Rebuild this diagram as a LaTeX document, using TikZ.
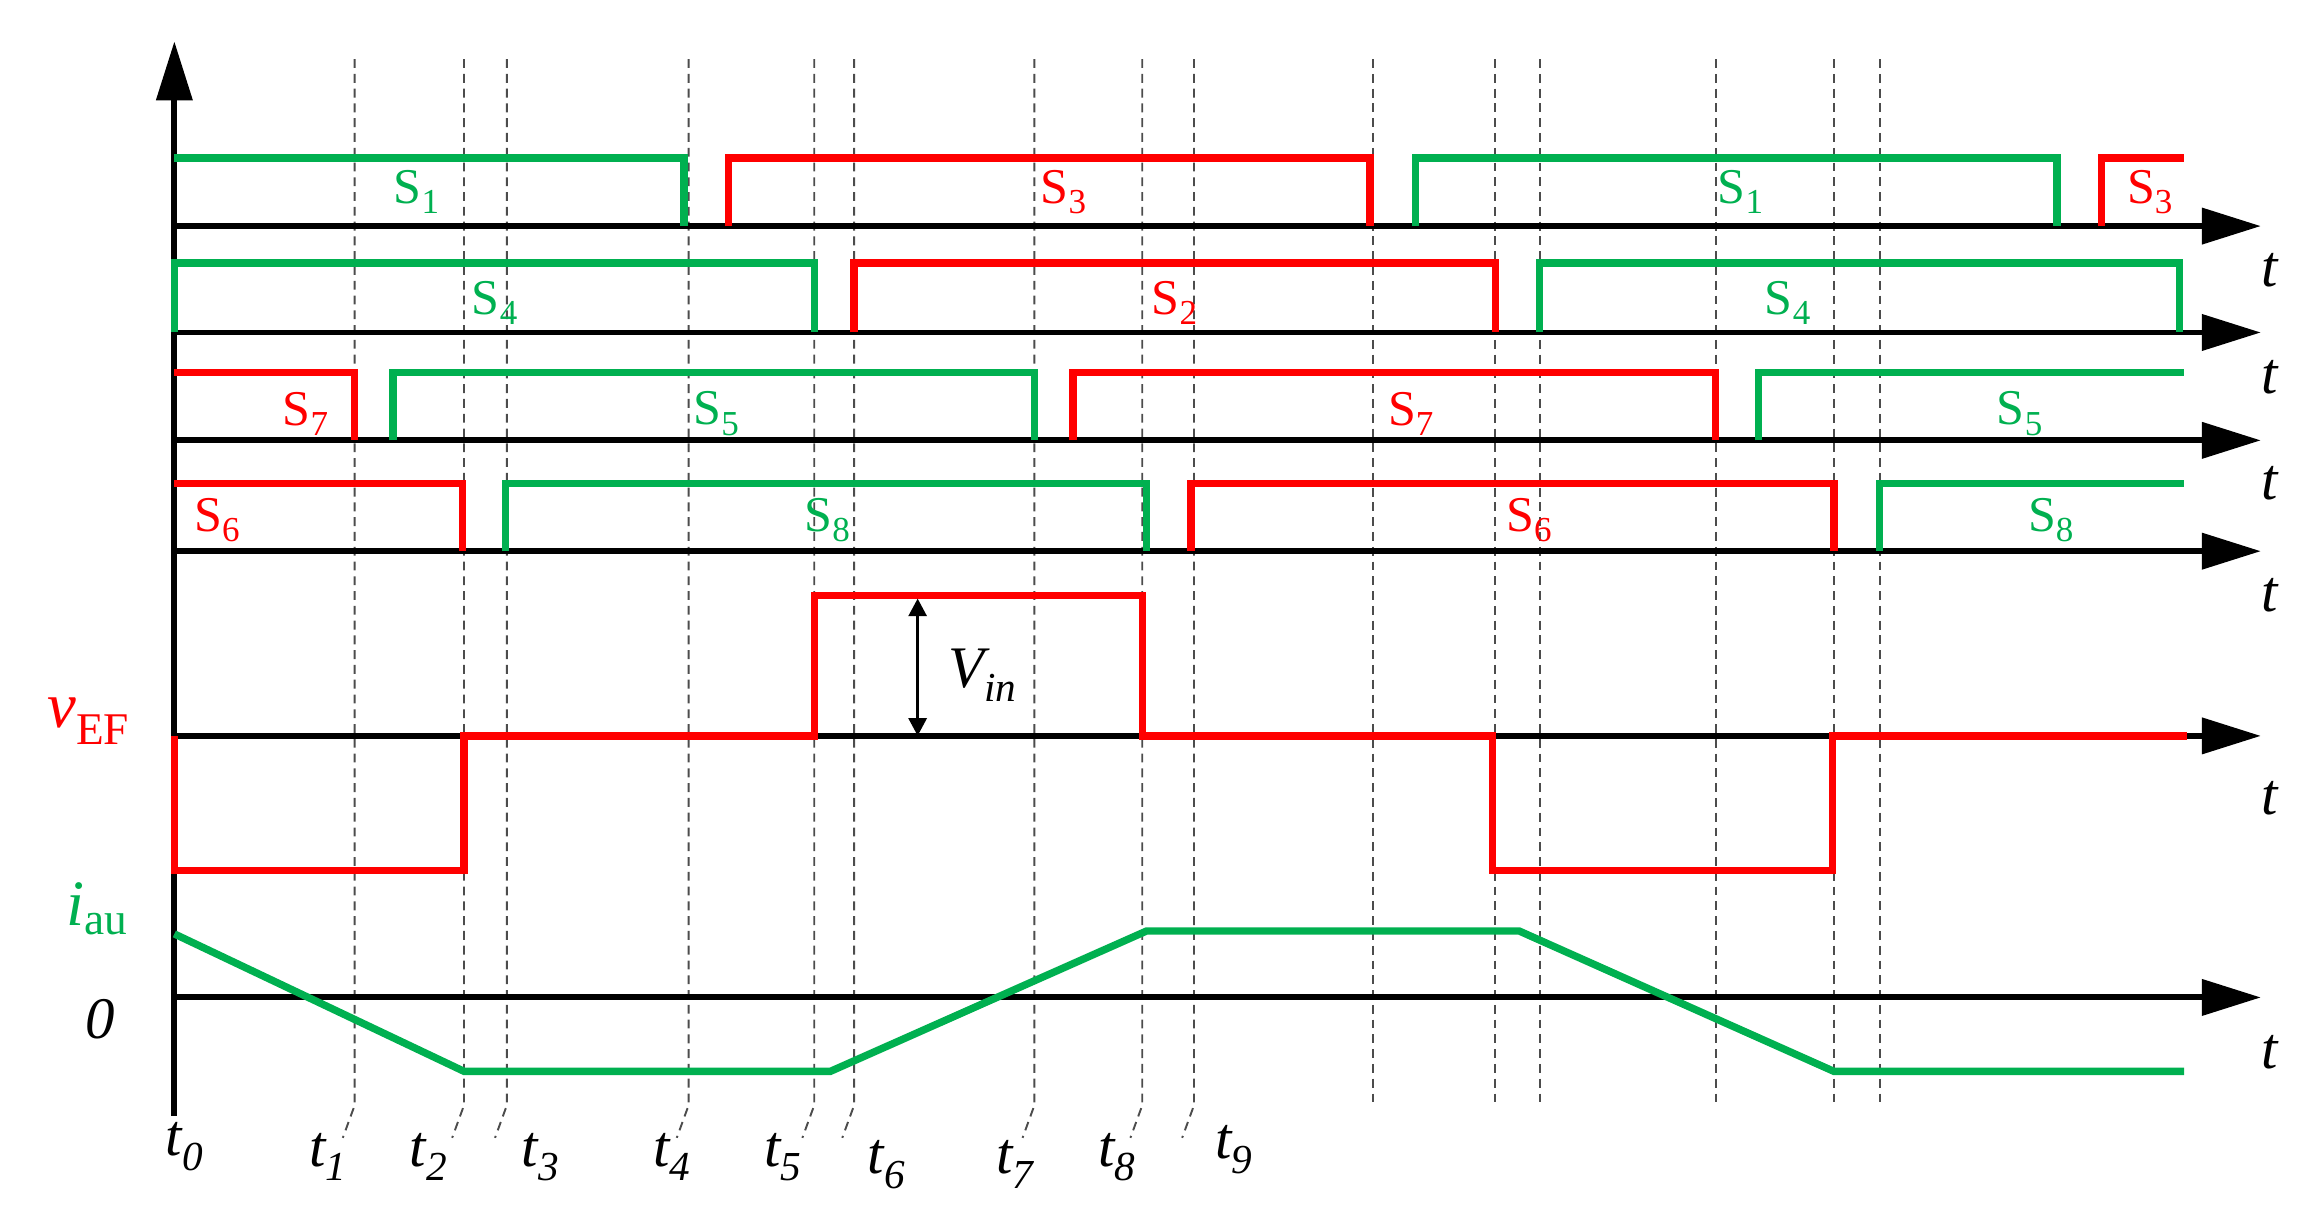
\documentclass[tikz,border=0pt]{standalone}
\usepackage{fontspec}
\setmainfont{Liberation Serif}
\usetikzlibrary{arrows.meta}
\definecolor{gr}{RGB}{0,176,80}
\definecolor{rd}{RGB}{255,0,0}
\tikzset{
 ax/.style={line width=4bp,-{Triangle[length=40bp,width=24bp]}},
 wg/.style={line width=5bp,gr},
 wr/.style={line width=5bp,rd},
 dl/.style={line width=1.3bp,dashed,dash pattern=on 6bp off 4bp,black!70},
 lg/.style={gr,font=\fontsize{34}{36}\selectfont},
 lr/.style={rd,font=\fontsize{34}{36}\selectfont},
 tl/.style={font=\fontsize{40}{44}\selectfont\itshape},
}
\begin{document}
\begin{tikzpicture}[x=1bp,y=-1bp]
\useasboundingbox (0,0) rectangle (1568,832);
% dashed lines
\foreach \x/\n in {240/1,314/2,343/3,466/4,551/5,578/6,700/7,773/8,808/9}{
 \coordinate (d\n) at (\x,40);
 \draw[dl] (d\n) -- (\x,748) -- (\x-8,770);
}
\foreach \x in {929,1012,1042,1161,1241,1272}{\draw[dl] (\x,40) -- (\x,748);}
% axes
\coordinate (o) at (118,755);
\coordinate (top) at (118,28);
\draw[ax] (o) -- (top);
\foreach \y in {153,225,298,373,498,675}{\draw[ax] (118,\y) -- (1530,\y);}
% row1
\draw[wg] (118,107) -- (463,107) -- (463,153);
\draw[wr] (493,153) -- (493,107) -- (927,107) -- (927,153);
\draw[wg] (958,153) -- (958,107) -- (1392,107) -- (1392,153);
\draw[wr] (1422,153) -- (1422,107) -- (1478,107);
% row2
\draw[wg] (118,225) -- (118,178) -- (551,178) -- (551,225);
\draw[wr] (578,225) -- (578,178) -- (1012,178) -- (1012,225);
\draw[wg] (1042,225) -- (1042,178) -- (1475,178) -- (1475,225);
% row3
\draw[wr] (118,252) -- (240,252) -- (240,298);
\draw[wg] (266,298) -- (266,252) -- (700,252) -- (700,298);
\draw[wr] (726,298) -- (726,252) -- (1161,252) -- (1161,298);
\draw[wg] (1190,298) -- (1190,252) -- (1478,252);
% row4
\draw[wr] (118,327) -- (313,327) -- (313,373);
\draw[wg] (342,373) -- (342,327) -- (776,327) -- (776,373);
\draw[wr] (806,373) -- (806,327) -- (1241,327) -- (1241,373);
\draw[wg] (1272,373) -- (1272,327) -- (1478,327);
% labels
\node[lg] (s1a) at (282,130) {S\textsubscript{1}};
\node[lr] (s3a) at (720,130) {S\textsubscript{3}};
\node[lg] (s1b) at (1178,130) {S\textsubscript{1}};
\node[lr] (s3b) at (1455,130) {S\textsubscript{3}};
\node[lg] (s4a) at (335,205) {S\textsubscript{4}};
\node[lr] (s2) at (795,205) {S\textsubscript{2}};
\node[lg] (s4b) at (1210,205) {S\textsubscript{4}};
\node[lr] (s7a) at (207,280) {S\textsubscript{7}};
\node[lg] (s5a) at (485,280) {S\textsubscript{5}};
\node[lr] (s7b) at (955,280) {S\textsubscript{7}};
\node[lg] (s5b) at (1367,280) {S\textsubscript{5}};
\node[lr] (s6a) at (147,352) {S\textsubscript{6}};
\node[lg] (s8a) at (560,352) {S\textsubscript{8}};
\node[lr] (s6b) at (1035,352) {S\textsubscript{6}};
\node[lg] (s8b) at (1388,352) {S\textsubscript{8}};
\foreach \y [count=\i] in {183,255,327,403,540,712}{\node[tl] (ta\i) at (1536,\y) {t};}
% vEF
\draw[wr] (118,498) -- (118,589) -- (314,589) -- (314,498) -- (551,498) -- (551,403) -- (773,403) -- (773,498) -- (1010,498) -- (1010,589) -- (1240,589) -- (1240,498) -- (1480,498);
\coordinate (va) at (621,405); \coordinate (vb) at (621,498);
\draw[line width=2.5bp,{Triangle[length=12bp,width=12bp]}-{Triangle[length=12bp,width=12bp]}] (va) -- (vb);
\node[tl] (vin) at (665,457) {V\textsubscript{\itshape in}};
\node[rd,font=\fontsize{44}{46}\selectfont] (vef) at (60,488) {\textit{v}\textsubscript{\upshape EF}};
\node[gr,font=\fontsize{44}{46}\selectfont] (iau) at (66,615) {\textit{i}\textsubscript{\upshape au}};
\node[tl] (zero) at (68,690) {0};
% iau
\draw[wg] (118,632) -- (314,725) -- (562,725) -- (776,630) -- (1028,630) -- (1241,725) -- (1478,725);
% t labels
\foreach \x/\y/\n in {125/776/0,222/783/1,290/783/2,366/783/3,455/783/4,530/783/5,600/788/6,687/788/7,756/783/8,835/778/9}{
 \node[tl] (t\n) at (\x,\y) {t\textsubscript{\n}};}
\end{tikzpicture}
\end{document}
